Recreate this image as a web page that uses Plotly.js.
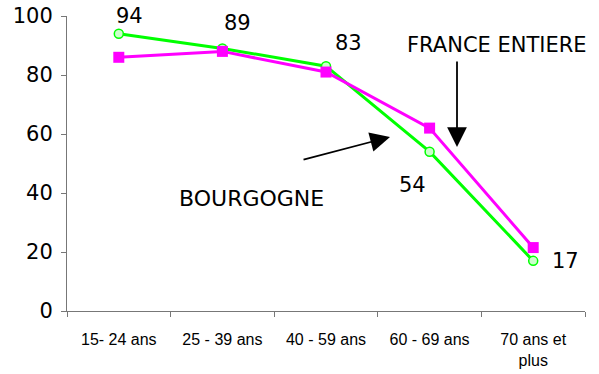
<!DOCTYPE html>
<html>
<head>
<meta charset="utf-8">
<script src="https://cdn.plot.ly/plotly-3.0.1.min.js"></script>
<style>html,body{margin:0;padding:0;background:#fff;}#chart{width:599px;height:374px;}</style>
</head>
<body>
<div id="chart"></div>
<script>
var categories = ["15- 24 ans", "25 - 39 ans", "40 - 59 ans", "60 - 69 ans", "70 ans et<br>plus"];
var bourgogne = [94, 89, 83, 54, 17];
var franceEntiere = [86, 88, 81, 62, 21.5];
var yTicks = [0, 20, 40, 60, 80, 100];

var labelShiftX = [11, 15, 22, -17, 32];
var labelShiftY = [18, 25, 23, -33, 0];

var traces = [
  {
    type: "scatter", mode: "lines+markers", x: categories, y: bourgogne, name: "BOURGOGNE",
    line: {color: "#00ff00", width: 3},
    marker: {symbol: "circle", size: 9, color: "#ccffcc", line: {color: "#00ff00", width: 1.5}},
    cliponaxis: false
  },
  {
    type: "scatter", mode: "lines+markers", x: categories, y: franceEntiere, name: "FRANCE ENTIERE",
    line: {color: "#ff00ff", width: 3},
    marker: {symbol: "square", size: 11, color: "#ff00ff"},
    cliponaxis: false
  }
];

var annotations = bourgogne.map(function (v, i) {
  return {
    x: categories[i], y: v, xref: "x", yref: "y", text: String(v), showarrow: false,
    xanchor: "center", yanchor: "middle",
    xshift: labelShiftX[i], yshift: labelShiftY[i],
    font: {family: "Verdana, DejaVu Sans, sans-serif", size: 21, color: "#000"}
  };
});

annotations.push({
  xref: "paper", yref: "paper", x: 0.831, y: 0.9, xanchor: "center", yanchor: "middle",
  text: "FRANCE ENTIERE", showarrow: false,
  font: {family: "Verdana, DejaVu Sans, sans-serif", size: 21, color: "#000"}
});
annotations.push({
  xref: "paper", yref: "paper", x: 0.357, y: 0.38, xanchor: "center", yanchor: "middle",
  text: "BOURGOGNE", showarrow: false,
  font: {family: "Verdana, DejaVu Sans, sans-serif", size: 22, color: "#000"}
});
annotations.push({
  xref: "paper", yref: "paper", x: 0.7529, y: 0.556, text: "", showarrow: true,
  ax: 0, ay: -87, arrowhead: 2, arrowsize: 2.2, arrowwidth: 1.8, arrowcolor: "#000", standoff: 0
});
annotations.push({
  xref: "paper", yref: "paper", x: 0.6236, y: 0.59, text: "", showarrow: true,
  ax: -88, ay: 23, arrowhead: 2, arrowsize: 2.2, arrowwidth: 1.8, arrowcolor: "#000", standoff: 0
});

var layout = {
  width: 599, height: 374,
  margin: {l: 67, r: 14, t: 16, b: 63},
  paper_bgcolor: "#fff", plot_bgcolor: "#fff",
  showlegend: false,
  xaxis: {
    type: "category", range: [-0.5, 4.5], tickson: "boundaries",
    showline: true, linecolor: "#777", linewidth: 1,
    ticks: "outside", ticklen: 5, tickcolor: "#777", showgrid: false, zeroline: false,
    tickfont: {family: "Arial, Liberation Sans, sans-serif", size: 16, color: "#000"},
    ticklabelstandoff: 14
  },
  yaxis: {
    range: [0, 100], tickvals: yTicks, ticktext: yTicks.map(String),
    showline: true, linecolor: "#777", linewidth: 1,
    ticks: "outside", ticklen: 5, tickcolor: "#777", showgrid: false, zeroline: false,
    tickfont: {family: "Verdana, DejaVu Sans, sans-serif", size: 21, color: "#000"},
    ticklabelstandoff: 4
  },
  annotations: annotations
};

Plotly.newPlot("chart", traces, layout, {displayModeBar: false, staticPlot: true});
</script>
</body>
</html>
